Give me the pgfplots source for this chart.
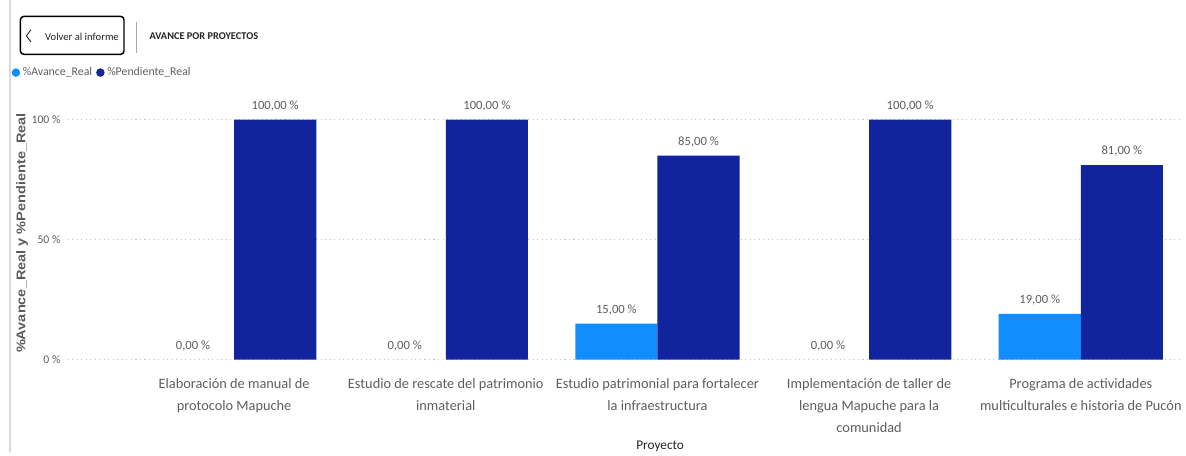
\documentclass[border=0pt]{standalone}
\usepackage{pgfplots}
\pgfplotsset{compat=1.18}
\usepackage{fontspec}
\setmainfont{Carlito}
\newfontfamily\arialf{Liberation Sans}
\definecolor{lightbar}{HTML}{118DFF}
\definecolor{darkbar}{HTML}{12239E}
\definecolor{greytxt}{HTML}{605E5C}
\definecolor{darktxt}{HTML}{252423}
\definecolor{gridc}{HTML}{C8C6C4}
\begin{document}
\begin{tikzpicture}
\begin{scope}[x=0.75pt,y=-0.75pt]
\path[use as bounding box] (0,0) rectangle (1186,454);
% page border
\draw[color=black!15, line width=1.5pt] (10.5,0) -- (10.5,454);
% back button
\draw[black, line width=1.1pt, rounded corners=2.5pt] (20.5,16.5) rectangle (124.5,54.5);
\draw[darktxt, line width=0.7pt] (31,30) -- (26.5,36) -- (31,42);
\node[anchor=west, font=\fontsize{8pt}{10pt}\selectfont, text=darktxt, inner sep=0] at (45,36.5) {Volver al informe};
\draw[color=black!35, line width=0.7pt] (137.5,22) -- (137.5,53);
\node[anchor=west, font=\fontsize{7.8pt}{9pt}\selectfont\bfseries, text=darktxt, inner sep=0] at (150,36) {AVANCE POR PROYECTOS};
\end{scope}
\begin{axis}[
  at={(51pt,-270.75pt)}, anchor=south west,
  scale only axis, width=838.5pt, height=180.75pt,
  xmin=-0.786, xmax=4.475, ymin=0, ymax=100,
  axis line style={draw=none},
  major tick length=0pt,
  ytick={0,50,100},
  yticklabels={0 \%,50 \%,100 \%},
  yticklabel style={font=\fontsize{8.8pt}{9pt}\selectfont, text=greytxt, xshift=-2pt},
  ymajorgrids,
  grid style={gridc, line width=0.8pt, dash pattern=on 0.8pt off 2.6pt},
  xtick={0,1,2,3,4},
  xticklabels={{Elaboración de manual de\\protocolo Mapuche},
               {Estudio de rescate del patrimonio\\inmaterial},
               {Estudio patrimonial para fortalecer\\la infraestructura},
               {Implementación de taller de\\lengua Mapuche para la\\comunidad},
               {Programa de actividades\\multiculturales e historia de Pucón}},
  xticklabel style={align=center, font=\fontsize{10.8pt}{16.5pt}\selectfont, text=greytxt, anchor=north, yshift=-11pt},
  xlabel={Proyecto},
  xlabel style={at={(rel axis cs:0.532,-0.36)}, anchor=center, font=\fontsize{10pt}{10pt}\selectfont, text=darktxt},
  ylabel={\%Avance\_Real y \%Pendiente\_Real},
  ylabel style={at={(rel axis cs:-0.041,0.527)}, anchor=center, xscale=1.15, font=\fontsize{9.5pt}{10pt}\arialf\bfseries, text=darktxt!75},
  ybar, bar width=61.875pt,
  clip=false,
  nodes near coords={\pgfmathprintnumber[fixed,fixed zerofill,precision=2,use comma,assume math mode=true]{\pgfplotspointmeta}~\%},
  nodes near coords style={font=\fontsize{9.5pt}{10pt}\selectfont, text=greytxt, anchor=south, yshift=3pt},
  legend style={at={(rel axis cs:-0.0506,1.229)}, anchor=north west, draw=none, fill=none,
    font=\fontsize{8.9pt}{10pt}\selectfont, text=greytxt, legend columns=2, inner sep=0pt,
    /tikz/every even column/.append style={column sep=1pt}},
  legend image code/.code={\fill (0.2cm,0cm) circle (3.2pt);},
  legend cell align=left,
]
\addplot[fill=lightbar, draw=none, bar shift=-30.94pt] coordinates {(2,15) (4,19)};
\addplot[fill=darkbar, draw=none, bar shift=30.94pt] coordinates {(0,100) (1,100) (2,85) (3,100) (4,81)};
\addplot[draw=none, fill=none, bar shift=-30.94pt, forget plot] coordinates {(0,0) (1,0) (3,0)};
\legend{\%Avance\_Real,\%Pendiente\_Real}
\end{axis}
\end{tikzpicture}
\end{document}
